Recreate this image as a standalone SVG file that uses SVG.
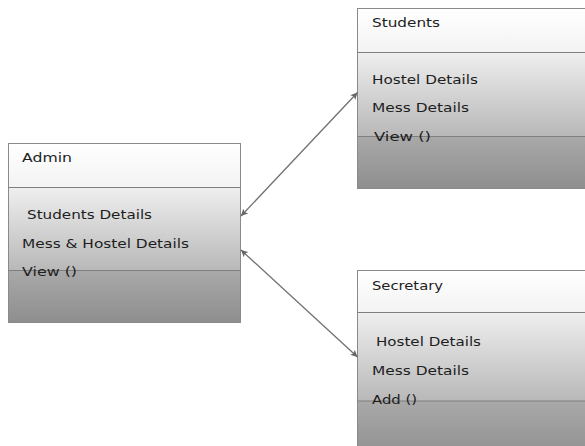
<svg xmlns="http://www.w3.org/2000/svg" width="585" height="446" viewBox="0 0 585 446">
  <style>
    .frame { fill: none; stroke: #8a8a8a; stroke-width: 1; }
    .rule { stroke: #7f7f7f; stroke-width: 1; }
    .head { fill: url(#gHead); }
    .attr { fill: url(#gAttr); }
    .ops { fill: url(#gOps); }
    .lbl { font-family: "DejaVu Sans", Verdana, sans-serif; font-size: 12px; fill: #1e1e1e; }
    .link { stroke: #707070; stroke-width: 1.3; fill: none; marker-start: url(#tip); marker-end: url(#tip); }
  </style>
  <defs>
    <linearGradient id="gHead" x1="0" y1="0" x2="0" y2="1">
      <stop offset="0" stop-color="#ffffff"/>
      <stop offset="1" stop-color="#f3f3f3"/>
    </linearGradient>
    <linearGradient id="gAttr" x1="0" y1="0" x2="0" y2="1">
      <stop offset="0" stop-color="#efefef"/>
      <stop offset="1" stop-color="#b8b8b8"/>
    </linearGradient>
    <linearGradient id="gOps" x1="0" y1="0" x2="0" y2="1">
      <stop offset="0" stop-color="#a9a9a9"/>
      <stop offset="1" stop-color="#8e8e8e"/>
    </linearGradient>
    <marker id="tip" viewBox="0 0 10 10" refX="10" refY="5" markerWidth="7" markerHeight="7" markerUnits="userSpaceOnUse" orient="auto-start-reverse">
      <path d="M0,0 L10,5 L0,10 L2.5,5 Z" fill="#666666"/>
    </marker>
  </defs>

  <!-- class: Admin -->
  <g id="admin">
    <rect class="head" x="8.5" y="143.5" width="232" height="44"/>
    <rect class="attr" x="8.5" y="187.5" width="232" height="83"/>
    <rect class="ops" x="8.5" y="270.5" width="232" height="52"/>
    <rect class="frame" x="8.5" y="143.5" width="232" height="179"/>
    <line class="rule" x1="8.5" y1="187.5" x2="240.5" y2="187.5"/>
    <line class="rule" x1="8.5" y1="270.5" x2="240.5" y2="270.5"/>
    <text class="lbl" x="22" y="161.5" textLength="50" lengthAdjust="spacingAndGlyphs">Admin</text>
    <text class="lbl" x="27" y="219" textLength="125" lengthAdjust="spacingAndGlyphs">Students Details</text>
    <text class="lbl" x="22" y="248" textLength="167" lengthAdjust="spacingAndGlyphs">Mess &amp; Hostel Details</text>
    <text class="lbl" x="22" y="276" textLength="55" lengthAdjust="spacingAndGlyphs">View ()</text>
  </g>

  <!-- class: Students -->
  <g id="students">
    <rect class="head" x="357.5" y="8.5" width="240" height="44"/>
    <rect class="attr" x="357.5" y="52.5" width="240" height="84"/>
    <rect class="ops" x="357.5" y="136.5" width="240" height="52"/>
    <rect class="frame" x="357.5" y="8.5" width="240" height="180"/>
    <line class="rule" x1="357.5" y1="52.5" x2="597.5" y2="52.5"/>
    <line class="rule" x1="357.5" y1="136.5" x2="597.5" y2="136.5"/>
    <text class="lbl" x="372" y="27" textLength="68" lengthAdjust="spacingAndGlyphs">Students</text>
    <text class="lbl" x="372" y="83.5" textLength="106" lengthAdjust="spacingAndGlyphs">Hostel Details</text>
    <text class="lbl" x="372" y="112" textLength="97" lengthAdjust="spacingAndGlyphs">Mess Details</text>
    <text class="lbl" x="374" y="140.5" textLength="57" lengthAdjust="spacingAndGlyphs">View ()</text>
  </g>

  <!-- class: Secretary -->
  <g id="secretary">
    <rect class="head" x="357.5" y="270.5" width="240" height="42"/>
    <rect class="attr" x="357.5" y="312.5" width="240" height="88.5"/>
    <rect class="ops" x="357.5" y="401" width="240" height="60"/>
    <rect class="frame" x="357.5" y="270.5" width="240" height="190.5"/>
    <line class="rule" x1="357.5" y1="312.5" x2="597.5" y2="312.5"/>
    <line class="rule" x1="357.5" y1="401" x2="597.5" y2="401"/>
    <text class="lbl" x="372" y="289.5" textLength="71" lengthAdjust="spacingAndGlyphs">Secretary</text>
    <text class="lbl" x="376" y="345.5" textLength="105" lengthAdjust="spacingAndGlyphs">Hostel Details</text>
    <text class="lbl" x="372" y="374.5" textLength="97" lengthAdjust="spacingAndGlyphs">Mess Details</text>
    <text class="lbl" x="372" y="404" textLength="45" lengthAdjust="spacingAndGlyphs">Add ()</text>
  </g>

  <!-- associations -->
  <g id="connectors">
    <line class="link" x1="241" y1="216" x2="357.5" y2="92.5"/>
    <line class="link" x1="241" y1="250" x2="357.5" y2="357"/>
  </g>
</svg>
